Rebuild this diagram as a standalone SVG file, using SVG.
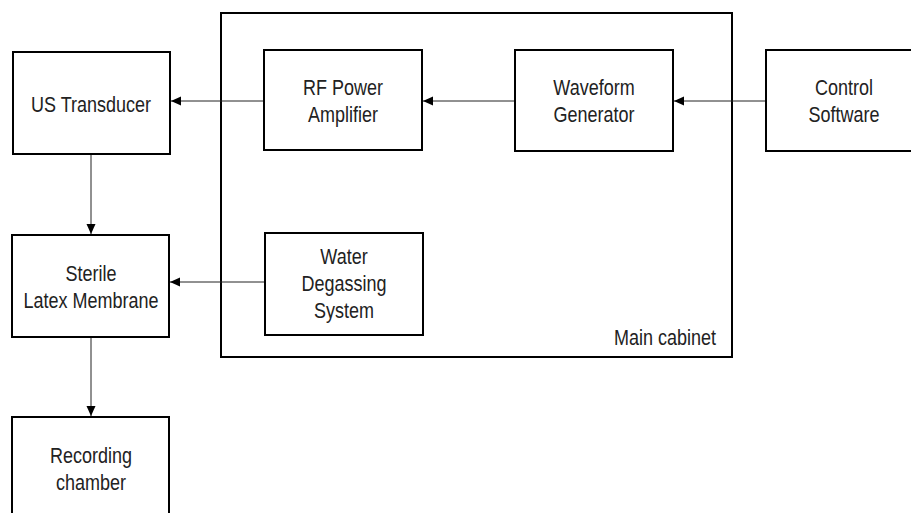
<svg xmlns="http://www.w3.org/2000/svg" width="911" height="513" viewBox="0 0 911 513">
<style>
.box{fill:#fff;stroke:#000;stroke-width:2}
.cab{fill:none;stroke:#000;stroke-width:2}
.t{font-family:"Liberation Sans",Arial,sans-serif;font-size:18px;fill:#222;text-anchor:middle}
.edge{stroke:#222;stroke-width:1;fill:none;marker-end:url(#ah)}
</style>
<defs>
<marker id="ah" viewBox="0 0 10 10" refX="10" refY="5" markerWidth="10" markerHeight="10" markerUnits="userSpaceOnUse" orient="auto">
<path d="M0,0.5 L10,5 L0,9.5 Z" fill="#000"/>
</marker>
</defs>
<g id="main-cabinet">
<rect class="cab" x="221" y="13" width="511" height="344"/>
<text class="t" transform="translate(716,345) scale(1,1.2)" style="text-anchor:end">Main cabinet</text>
</g>
<g id="connectors">
<line class="edge" x1="766" y1="101" x2="674" y2="101"/>
<line class="edge" x1="515" y1="101" x2="423" y2="101"/>
<line class="edge" x1="264" y1="101" x2="171" y2="101"/>
<line class="edge" x1="91" y1="154" x2="91" y2="234"/>
<line class="edge" x1="265" y1="282" x2="170" y2="282"/>
<line class="edge" x1="91" y1="337" x2="91" y2="416"/>
</g>
<g id="us-transducer">
<rect class="box" x="13" y="52" width="157" height="102"/>
<text class="t" transform="translate(91,112) scale(1,1.2)">US Transducer</text>
</g>
<g id="rf-power-amplifier">
<rect class="box" x="264" y="50" width="158" height="100"/>
<text class="t" transform="translate(343,95) scale(1,1.2)">RF Power</text>
<text class="t" transform="translate(343,122) scale(1,1.2)">Amplifier</text>
</g>
<g id="waveform-generator">
<rect class="box" x="515" y="50" width="158" height="101"/>
<text class="t" transform="translate(594,95) scale(1,1.2)">Waveform</text>
<text class="t" transform="translate(594,122) scale(1,1.2)">Generator</text>
</g>
<g id="control-software">
<rect class="box" x="766" y="50" width="160" height="101"/>
<text class="t" transform="translate(844,95) scale(1,1.2)">Control</text>
<text class="t" transform="translate(844,122) scale(1,1.2)">Software</text>
</g>
<g id="sterile-latex-membrane">
<rect class="box" x="12" y="235" width="157" height="102"/>
<text class="t" transform="translate(91,281) scale(1,1.2)">Sterile</text>
<text class="t" transform="translate(91,308) scale(1,1.2)">Latex Membrane</text>
</g>
<g id="water-degassing-system">
<rect class="box" x="265" y="233" width="158" height="102"/>
<text class="t" transform="translate(344,264) scale(1,1.2)">Water</text>
<text class="t" transform="translate(344,291) scale(1,1.2)">Degassing</text>
<text class="t" transform="translate(344,318) scale(1,1.2)">System</text>
</g>
<g id="recording-chamber">
<rect class="box" x="12" y="417" width="157" height="110"/>
<text class="t" transform="translate(91,463) scale(1,1.2)">Recording</text>
<text class="t" transform="translate(91,490) scale(1,1.2)">chamber</text>
</g>
</svg>
